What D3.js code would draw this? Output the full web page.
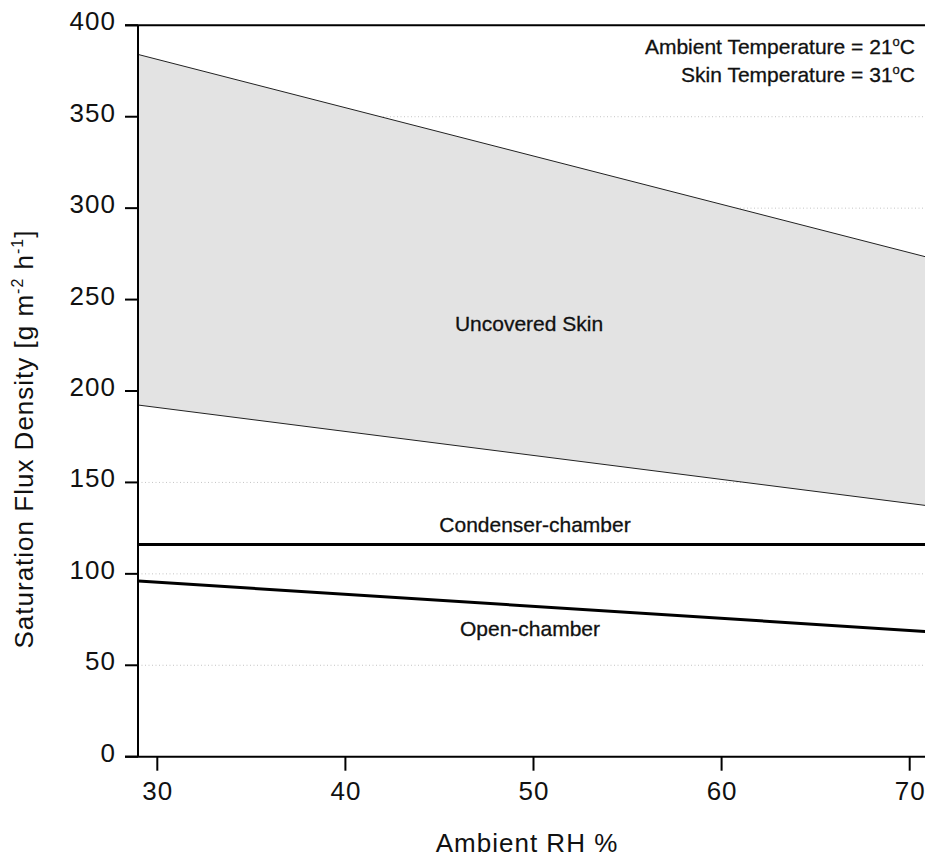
<!DOCTYPE html>
<html>
<head>
<meta charset="utf-8">
<script src="https://cdn.jsdelivr.net/npm/d3@7"></script>
<style>
  html, body { margin: 0; padding: 0; background: #fff; }
  svg { display: block; font-family: "Liberation Sans", Arial, Helvetica, sans-serif; }
</style>
</head>
<body>
<svg id="chart" width="925" height="859"></svg>
<script>
// Ambient relative humidity (%) at the ends of each line
const rh = [29, 71];
// Uncovered skin: upper and lower bounds of the band (g m^-2 h^-1)
const skinUpper = [384, 273];
const skinLower = [192.3, 137.2];
// Chamber methods
const condenser = [116, 116];
const openChamber = [96.1, 68.4];
// Axis ticks
const xTicks = [30, 40, 50, 60, 70];
const yTicks = [0, 50, 100, 150, 200, 250, 300, 350, 400];

const svg = d3.select("#chart");

const x = d3.scaleLinear().domain([29, 71]).range([138.5, 928.5]);
const y = d3.scaleLinear().domain([0, 400]).range([756.7, 25.3]);

const xL = 138, xR = 925, yT = y(400), yB = y(0);

// dotted horizontal grid
svg.append("g").selectAll("line")
  .data(yTicks.filter(d => d > 0 && d < 400))
  .join("line")
  .attr("x1", xL).attr("x2", xR)
  .attr("y1", d => y(d)).attr("y2", d => y(d))
  .attr("stroke", "#c4c4c4")
  .attr("stroke-width", 1)
  .attr("stroke-dasharray", "1,2.5");

// uncovered skin band
const band = rh.map((r, i) => ({ r, hi: skinUpper[i], lo: skinLower[i] }));
svg.append("path")
  .datum(band)
  .attr("fill", "#e3e3e3")
  .attr("d", d3.area().x(d => x(d.r)).y0(d => y(d.lo)).y1(d => y(d.hi)));

const line = d3.line().x(d => x(d[0])).y(d => y(d[1]));
const pairs = vals => rh.map((r, i) => [r, vals[i]]);

svg.append("path").datum(pairs(skinUpper)).attr("d", line)
  .attr("fill", "none").attr("stroke", "#222").attr("stroke-width", 1);
svg.append("path").datum(pairs(skinLower)).attr("d", line)
  .attr("fill", "none").attr("stroke", "#222").attr("stroke-width", 1);
svg.append("path").datum(pairs(condenser)).attr("d", line)
  .attr("fill", "none").attr("stroke", "#000").attr("stroke-width", 3);
svg.append("path").datum(pairs(openChamber)).attr("d", line)
  .attr("fill", "none").attr("stroke", "#000").attr("stroke-width", 3);

// frame: top border, left axis, bottom axis
svg.append("line").attr("x1", 125).attr("x2", xR).attr("y1", yT).attr("y2", yT)
  .attr("stroke", "#000").attr("stroke-width", 2);
svg.append("line").attr("x1", xL).attr("x2", xL).attr("y1", yT).attr("y2", yB)
  .attr("stroke", "#000").attr("stroke-width", 2);
svg.append("line").attr("x1", 125).attr("x2", xR).attr("y1", yB).attr("y2", yB)
  .attr("stroke", "#000").attr("stroke-width", 2);

// y ticks and labels
const yAx = svg.append("g");
yAx.selectAll("line").data(yTicks).join("line")
  .attr("x1", 125).attr("x2", xL)
  .attr("y1", d => y(d)).attr("y2", d => y(d))
  .attr("stroke", "#000").attr("stroke-width", 2);
yAx.selectAll("text").data(yTicks).join("text")
  .attr("x", 116).attr("y", d => y(d) + 5)
  .attr("text-anchor", "end")
  .attr("font-size", 26)
  .attr("letter-spacing", 1)
  .attr("fill", "#111")
  .text(d => d);

// x ticks and labels
const xAx = svg.append("g");
xAx.selectAll("line").data(xTicks).join("line")
  .attr("x1", d => x(d)).attr("x2", d => x(d))
  .attr("y1", yB).attr("y2", yB + 14)
  .attr("stroke", "#000").attr("stroke-width", 2);
xAx.selectAll("text").data(xTicks).join("text")
  .attr("x", d => x(d) + 0.5).attr("y", 800)
  .attr("text-anchor", "middle")
  .attr("font-size", 26)
  .attr("letter-spacing", 1)
  .attr("fill", "#111")
  .text(d => d);

// axis titles
svg.append("text")
  .attr("x", 527).attr("y", 852)
  .attr("text-anchor", "middle")
  .attr("font-size", 26)
  .attr("letter-spacing", 1)
  .attr("fill", "#111")
  .text("Ambient RH %");

const yTitle = svg.append("text")
  .attr("transform", "translate(33,439) rotate(-90)")
  .attr("text-anchor", "middle")
  .attr("font-size", 26)
  .attr("letter-spacing", 1)
  .attr("fill", "#111");
yTitle.append("tspan").text("Saturation Flux Density [g m");
yTitle.append("tspan").attr("font-size", 16).attr("dy", -10).text("-2");
yTitle.append("tspan").attr("dy", 10).text(" h");
yTitle.append("tspan").attr("font-size", 16).attr("dy", -10).text("-1");
yTitle.append("tspan").attr("dy", 10).text("]");

// series labels
const labelStyle = sel => sel.attr("text-anchor", "middle")
  .attr("font-size", 21).attr("fill", "#111")
  .attr("stroke", "#111").attr("stroke-width", 0.3);
svg.append("text").attr("x", 529).attr("y", 331).call(labelStyle).text("Uncovered Skin");
svg.append("text").attr("x", 535).attr("y", 532).call(labelStyle).text("Condenser-chamber");
svg.append("text").attr("x", 530).attr("y", 636).call(labelStyle).text("Open-chamber");

// conditions note
function note(yPos, label, temp) {
  const t = svg.append("text").attr("x", 915).attr("y", yPos)
    .attr("text-anchor", "end").attr("font-size", 21).attr("fill", "#111")
    .attr("stroke", "#111").attr("stroke-width", 0.3);
  t.append("tspan").text(label + " = " + temp);
  t.append("tspan").attr("font-size", 13).attr("dy", -8).text("o");
  t.append("tspan").attr("dy", 8).text("C");
}
note(54, "Ambient Temperature", "21");
note(82, "Skin Temperature", "31");
</script>
</body>
</html>
